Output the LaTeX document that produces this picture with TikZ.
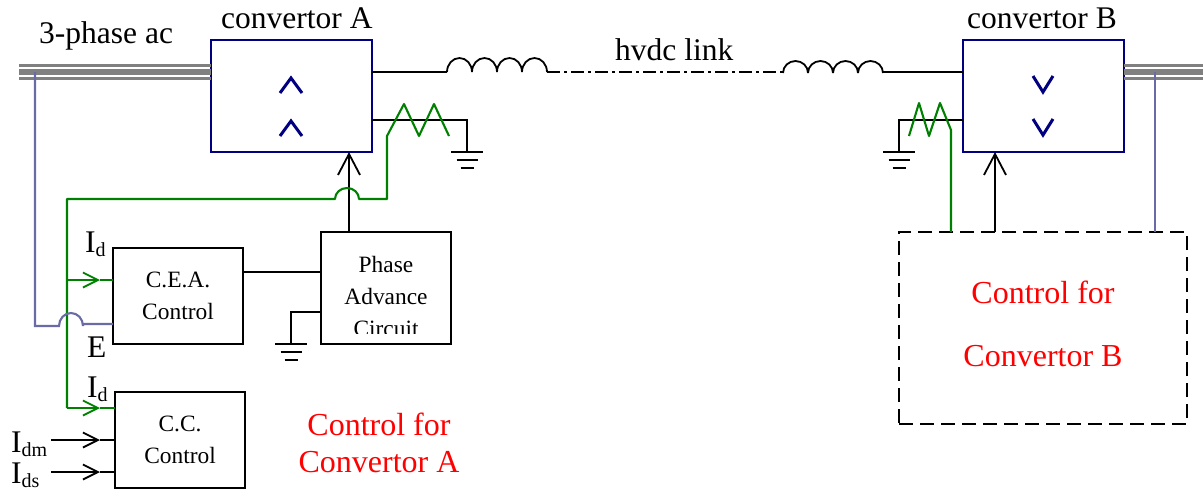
\documentclass[tikz,border=0pt]{standalone}
\usepackage{fontspec}
\setmainfont{Liberation Serif}
\usepackage{xcolor}
\usetikzlibrary{arrows.meta,positioning}
\definecolor{acgray}{HTML}{808080}
\definecolor{valveblue}{HTML}{000080}
\definecolor{sensepurple}{HTML}{6A6AA6}
\definecolor{sensegreen}{HTML}{008000}
\newcommand{\subidx}[1]{\raisebox{-4pt}{\fontsize{20}{22}\selectfont #1}}

\begin{document}
\begin{tikzpicture}[
  x=1pt, y=-1pt,
  node distance=48pt and 78pt,
  wire/.style={line width=2.1pt},
  sense/.style={line width=2.1pt, sensegreen, line join=round},
  volt/.style={line width=2.1pt, sensepurple},
  arr/.style={wire, -{Straight Barb[length=21pt,width=22pt,line width=1.8pt]}},
  midarr/.style={-{Straight Barb[length=15pt,width=15pt,line width=1.8pt]}},
  convbox/.style={draw=valveblue, line width=2.1pt, minimum width=161pt, minimum height=112pt,
              inner sep=0pt, outer sep=0pt},
  ctrlbox/.style={draw, line width=2.1pt, minimum width=130pt, minimum height=96pt,
              align=center, inner sep=0pt, outer sep=0pt,
              font=\fontsize{23.4}{32}\selectfont},
  lbl/.style={anchor=base west, inner sep=0pt, font=\fontsize{31.5}{36}\selectfont},
  redlbl/.style={anchor=base, inner sep=0pt, text=red, font=\fontsize{32}{36}\selectfont},
  valve/.style={line width=3pt, valveblue},
  acbar/.style={acgray},
  gnd/.pic={\draw[wire] (-16,0) -- (16,0) (-10.5,8) -- (10.5,8) (-6.5,16) -- (6.5,16);},
]
\useasboundingbox (0,0) rectangle (1203,491);
%% Row 1: convertors and ac bars
\node[convbox, anchor=north west] (conva) at (211,40) {};
\node[convbox, right=591pt of conva] (convb) {};
\foreach \yy/\wd in {65/3,72/5.5,78/3} {
  \draw[acbar, line width=\wd pt] (19,\yy) -- (conva.west |- 0,\yy);
  \draw[acbar, line width=\wd pt] (convb.east |- 0,\yy) -- (1203,\yy);
}
\node[lbl] (lac) at (39,43) {3-phase ac};
\node[lbl] (lca) at (221,28) {convertor A};
\node[lbl] (lcb) at (967,28) {convertor B};
\node[lbl] (lhv) at (615,60) {hvdc link};
%% valve marks
\foreach \yy in {93,136} {
  \draw[valve] (280,\yy) -- (291,\yy-15) -- (302,\yy);
  \draw[valve] (1033,\yy-17) -- (1043,\yy-1) -- (1053,\yy-17);
}
%% Row 2: dc link with reactors
\coordinate (coila) at (447,72);
\coordinate (coilb) at (783,72);
\coordinate (coilaend) at (547,72);
\coordinate (coilbend) at (883,72);
\draw[wire] (conva.east |- coila) -- (coila);
\draw[wire] (coilbend) -- (convb.west |- coilb);
\foreach \ii in {0,1,2,3} {
  \draw[wire, line width=1.8pt] (447+25*\ii,72) arc (180:0:12.5pt and 14pt);
  \draw[wire, line width=1.8pt] (783+25*\ii,73) arc (180:0:12.5pt and 12pt);
}
\draw[wire, dash pattern=on 13pt off 4pt on 3pt off 4pt] (coilaend) -- (coilb);
%% earth returns
\coordinate (gnda) at (467,152);
\coordinate (gndb) at (899,152);
\draw[wire] (conva.east |- 0,120) -| (gnda);
\draw[wire] (convb.west |- 0,120) -| (gndb);
\pic at (gnda) {gnd};
\pic at (gndb) {gnd};
%% Row 3: control boxes for A
\node[ctrlbox, anchor=north west] (cea) at (113,248) {C.E.A.\\Control};
\node[ctrlbox, below=48pt of cea, xshift=2pt] (cc) {C.C.\\Control};
\node[ctrlbox, minimum height=112pt, anchor=north west] (phase) at (321,232) {};
\begin{scope}
  \clip (phase.north west) rectangle (451,333);
  \node[align=center, inner sep=0pt, font=\fontsize{23.4}{32}\selectfont, anchor=north] (phasetxt) at (386,256) {Phase\\Advance\\Circuit};
\end{scope}
\coordinate (gndc) at (291,344);
\draw[wire] (cea.east |- 0,272) -- (phase.west |- 0,272);
\draw[wire] (phase.west |- 0,312) -| (gndc);
\pic at (gndc) {gnd};
\draw[arr] (phase.north -| 349,0) -- (conva.south -| 349,0);
\node[lbl] (lid1) at (85,252) {I\subidx{d}};
\node[lbl] (lid2) at (87,397) {I\subidx{d}};
\node[lbl] (le) at (87,357) {E};
\node[lbl] (lidm) at (11,452) {I\subidx{dm}};
\node[lbl] (lids) at (11,483) {I\subidx{ds}};
\node[redlbl] (ctla1) at (379,435) {Control for};
\node[redlbl] (ctla2) at (379,472) {Convertor A};
%% green current signal
\coordinate (tipcea) at (100,280);
\coordinate (tipcc) at (100,408);
\coordinate (tipdm) at (100,440);
\coordinate (tipds) at (100,472);
\coordinate (startdm) at (51,440);
\coordinate (startds) at (51,472);
\coordinate (trunk) at (67,408);
\coordinate (zigastart) at (387,136);
\draw[sense] (trunk) -- (67,199) -- (335,199) arc (180:0:12pt and 11pt) -- (387,199) -- (zigastart)
  -- (404,104) -- (419,136) -- (434,104) -- (449,136);
\draw[sense, midarr] (67,280) -- (tipcea);
\draw[sense] (tipcea) -- (cea.west |- tipcea);
\draw[sense, midarr] (trunk) -- (tipcc);
\draw[sense] (tipcc) -- (cc.west |- tipcc);
%% black inputs to C.C.
\draw[wire, midarr] (startdm) -- (tipdm);
\draw[wire] (tipdm) -- (cc.west |- tipdm);
\draw[wire, midarr] (startds) -- (tipds);
\draw[wire] (tipds) -- (cc.west |- tipds);
%% purple voltage signal
\draw[volt] (35,72) -- (35,326) -- (59,326) arc (180:0:12pt and 13pt) -- (83,324) -- (cea.west |- 0,324);
%% Row 4: control for B
\node[draw, line width=2.1pt, dash pattern=on 14pt off 7pt, minimum width=288pt, minimum height=192pt,
  inner sep=0pt, outer sep=0pt, anchor=north west] (ctlb) at (899,232) {};
\node[redlbl] (ctlb1) at (1043,303) {Control for};
\node[redlbl] (ctlb2) at (1043,366) {Convertor B};
\draw[arr] (ctlb.north -| 995,0) -- (convb.south -| 995,0);
\draw[volt] (1155,72) -- (ctlb.north -| 1155,0);
\draw[sense] (ctlb.north -| 951,0) -- (951,130) -- (940,103) -- (929,136) -- (919,103) -- (909,136);
\end{tikzpicture}
\end{document}
